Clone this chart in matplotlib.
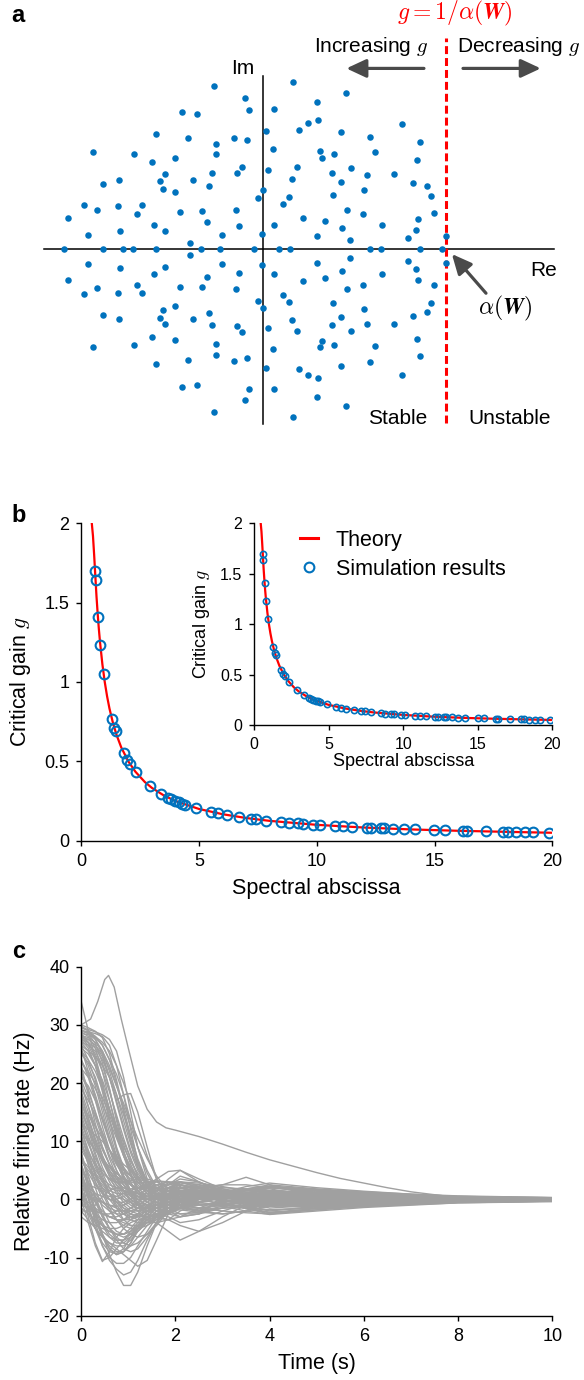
import numpy as np
import matplotlib
matplotlib.use('Agg')
import matplotlib.pyplot as plt
from matplotlib.lines import Line2D

plt.rcParams['font.family'] = ['Liberation Sans', 'DejaVu Sans']
plt.rcParams['mathtext.fontset'] = 'cm'
plt.rcParams['axes.unicode_minus'] = False

# ============================================================
# Data
# ============================================================
# (a) eigenvalues, upper half-plane (the lower half is the conjugate)
eig_re_upper = [-0.273, -0.098, -0.080, 0.059, 0.165, 0.296, 0.455, -0.447, -0.365, 0.302,
                0.245, 0.198, 0.012, 0.427, 0.584, 0.761, 0.861, -0.586, -0.412, -0.159,
                -0.092, -0.259, -0.259, -0.931, -0.710, -0.612, -0.484, 0.051, 0.312, 0.322,
                0.388, 0.612, 0.841, -0.118, -0.145, -0.280, 0.027, 0.182, 0.159, 0.480,
                0.378, 0.569, 0.718, -0.537, -0.565, -0.384, -0.549, -0.484, -0.296, -0.002,
                -0.027, 0.141, 0.110, 0.427, 0.553, 0.384, 0.822, 0.896, 0.918, -0.880,
                -0.790, -0.980, -0.914, -0.794, -0.667, -0.692, -0.455, -0.335, -0.151, -0.310,
                0.457, 0.547, 0.933, -1.071, -0.600, -0.541, -0.131, 0.061, 0.218, 0.337,
                0.433, 0.651, 0.849, 0.837, -0.959, -0.784, -0.227, -0.010, 0.292, 0.476,
                0.794, 1.000, -0.402]
eig_im_upper = [0.998, 0.924, 0.855, 0.857, 1.027, 0.902, 0.959, 0.843, 0.831, 0.790,
                0.771, 0.731, 0.727, 0.716, 0.690, 0.769, 0.655, 0.704, 0.680, 0.682,
                0.667, 0.645, 0.582, 0.596, 0.584, 0.535, 0.557, 0.612, 0.600, 0.559,
                0.584, 0.594, 0.547, 0.506, 0.469, 0.465, 0.484, 0.502, 0.431, 0.500,
                0.465, 0.457, 0.459, 0.459, 0.418, 0.427, 0.371, 0.349, 0.390, 0.361,
                0.316, 0.322, 0.278, 0.412, 0.365, 0.331, 0.408, 0.386, 0.329, 0.400,
                0.427, 0.271, 0.239, 0.267, 0.269, 0.216, 0.229, 0.233, 0.241, 0.167,
                0.243, 0.216, 0.220, 0.190, 0.149, 0.110, 0.143, 0.149, 0.194, 0.173,
                0.131, 0.149, 0.188, 0.120, 0.088, 0.112, 0.090, 0.094, 0.084, 0.055,
                0.071, 0.082, 0.037]
eig_re_real = [-1.090, -0.878, -0.767, -0.712, -0.586, -0.343, -0.237, -0.051,
               0.086, 0.145, 0.584, 0.643, 0.861, 0.980]
spectral_abscissa = 1.0

# (b) critical gain vs spectral abscissa
theory_x = [0.45, 0.5, 0.55, 0.6, 0.65, 0.7, 0.75, 0.8, 0.9, 1.0, 1.1, 1.2, 1.35, 1.5, 1.7,
            2.0, 2.3, 2.7, 3.0, 3.5, 4.0, 5.0, 6.0, 7.0, 8.0, 10.0, 12.0, 14.0, 16.0, 18.0, 20.0]
theory_g = [2.0, 1.92, 1.80, 1.667, 1.538, 1.429, 1.333, 1.25, 1.111, 1.0, 0.909, 0.833,
            0.741, 0.667, 0.588, 0.5, 0.435, 0.370, 0.333, 0.286, 0.25, 0.2, 0.167, 0.143,
            0.125, 0.1, 0.083, 0.071, 0.0625, 0.056, 0.05]
sim_x = [0.59, 0.61, 0.71, 0.81, 0.95, 1.30, 1.40, 1.46, 1.82, 1.96, 2.06, 2.34, 2.91, 3.38,
         3.67, 3.81, 3.98, 4.14, 4.28, 4.41, 4.87, 5.52, 5.82, 6.20, 6.69, 7.19, 7.43, 7.86,
         8.49, 8.81, 9.20, 9.41, 9.83, 10.12, 10.78, 11.13, 11.51, 12.13, 12.32, 12.71, 12.84,
         13.25, 13.71, 14.18, 14.99, 15.43, 16.22, 16.38, 17.17, 17.90, 18.12, 18.47, 18.86,
         19.19, 19.87]
sim_g = [1.70, 1.64, 1.41, 1.23, 1.05, 0.77, 0.71, 0.69, 0.55, 0.51, 0.485, 0.43, 0.345, 0.296,
         0.272, 0.262, 0.251, 0.241, 0.234, 0.227, 0.205, 0.181, 0.172, 0.161, 0.149, 0.139,
         0.135, 0.127, 0.118, 0.114, 0.109, 0.106, 0.102, 0.099, 0.093, 0.090, 0.087, 0.082,
         0.081, 0.079, 0.078, 0.075, 0.073, 0.071, 0.067, 0.065, 0.062, 0.061, 0.058, 0.056,
         0.055, 0.054, 0.053, 0.052, 0.050]

# (c) relative firing rates
outlier_t = [0, 0.2, 0.35, 0.5, 0.58, 0.7, 0.85, 1.0, 1.2, 1.4, 1.6, 1.8, 2.0, 2.5, 3.0, 3.5,
             4.0, 4.5, 5.0, 5.5, 6.0, 6.5, 7.0, 7.5, 8.0, 9.0, 10.0]
outlier_rate = [30.0, 31.0, 34.0, 37.8, 38.5, 36.5, 31.0, 26.0, 19.5, 15.5, 13.3, 12.3, 11.9,
                10.8, 9.5, 8.1, 6.8, 5.7, 4.6, 3.6, 2.8, 2.0, 1.3, 0.8, 0.3, 0.0, -0.1]
time_s = [0, 0.15, 0.3, 0.45, 0.6, 0.75, 0.9, 1.05, 1.2, 1.4, 1.6, 1.85, 2.1, 2.5, 3.0, 3.5,
          4.0, 5.0, 6.0, 7.0, 8.0, 10.0]
rate_traces = [
    [29.5, 29.2, 28.8, 28.3, 27.5, 25.5, 21.0, 15.0, 9.0, 3.5, 0.5, -0.5, -0.2, 0.5, 0.3, 0.0, 0.8, 1.2, 0.9, 0.5, 0.3, 0.1],
    [29.0, 28.8, 28.5, 28.0, 26.5, 23.0, 18.0, 12.0, 6.5, 2.0, 0.0, 0.8, 1.5, 1.0, 0.4, 0.2, -0.6, -1.0, -0.7, -0.4, -0.2, 0.0],
    [28.5, 28.3, 27.8, 26.5, 24.0, 20.0, 15.0, 10.0, 5.5, 2.0, 0.5, 1.5, 2.5, 1.5, 0.5, -0.3, -0.4, 0.5, 0.8, 0.6, 0.2, 0.1],
    [29.8, 29.0, 27.5, 25.0, 21.0, 17.0, 18.0, 18.2, 15.0, 9.0, 3.5, 0.5, -0.5, 0.5, 1.0, 0.5, 0.0, -0.8, -0.9, -0.5, -0.3, -0.1],
    [28.0, 27.5, 26.5, 24.5, 21.0, 16.5, 12.0, 8.0, 5.0, 2.5, 1.5, 2.5, 4.0, 3.0, 1.5, 0.5, -0.3, -0.5, 0.3, 0.4, 0.3, 0.2],
    [27.0, 26.5, 25.5, 23.0, 19.0, 14.0, 9.5, 6.0, 3.5, 1.5, 1.5, 3.5, 5.0, 3.5, 1.8, 0.8, 1.2, 1.6, 1.2, 0.7, 0.4, 0.2],
    [29.2, 28.5, 26.8, 23.5, 19.0, 13.5, 8.5, 4.5, 1.5, -0.5, -1.0, 0.0, 1.0, 1.5, 1.0, 0.5, 0.3, 0.0, -0.4, -0.3, -0.1, 0.0],
    [26.0, 25.0, 23.0, 20.5, 17.0, 12.5, 8.0, 4.5, 2.0, 0.5, 0.5, 1.5, 2.0, 1.2, 0.5, 0.2, 1.5, 1.0, 0.5, 0.2, 0.3, 0.0],
    [34.0, 29.0, 24.0, 19.0, 15.0, 12.5, 10.0, 7.0, 4.0, 1.5, 0.0, -0.5, 0.0, 0.5, 0.3, 0.0, -1.0, -1.3, -0.8, -0.5, -0.2, -0.2],
    [28.8, 28.0, 26.0, 22.0, 17.0, 12.0, 7.5, 4.0, 1.5, 0.0, -0.8, -1.5, -1.5, -0.5, 0.3, 0.5, 0.3, 0.7, 0.5, 0.2, 0.0, 0.1],
    [27.5, 26.0, 23.0, 18.5, 13.5, 9.0, 5.5, 3.0, 1.0, 0.0, 0.3, 1.0, 1.5, 1.0, 0.5, 0.3, 0.1, -0.3, -0.6, -0.6, -0.4, -0.1],
    [25.0, 23.5, 21.0, 17.0, 12.5, 8.5, 5.0, 2.5, 1.0, 0.5, 0.5, 2.0, 3.0, 2.0, 0.8, 0.0, -0.5, -0.3, 0.1, 0.3, 0.2, 0.0],
    [28.0, 27.0, 24.5, 20.0, 14.0, 8.5, 4.0, 1.0, -1.0, -2.0, -1.5, 0.0, 1.5, 1.5, 0.5, -0.2, -0.5, -0.2, 0.2, 0.0, 0.0, 0.0],
    [29.5, 29.0, 28.0, 26.5, 24.0, 21.5, 18.0, 13.5, 9.0, 4.5, 1.5, -0.5, -1.0, -0.5, 0.5, 1.0, 0.8, 0.2, 0.0, 0.1, 0.0, 0.0],
    [28.5, 27.0, 25.0, 22.0, 18.5, 14.5, 10.5, 7.0, 4.0, 1.5, 0.0, -1.0, -1.0, 0.0, 0.8, 0.8, 0.3, -0.2, 0.0, 0.0, 0.0, 0.0],
    [27.0, 25.5, 23.0, 19.5, 15.5, 11.5, 8.0, 5.5, 3.5, 2.0, 1.0, 0.5, 0.5, 0.5, 0.2, 0.0, 0.6, 0.9, 0.7, 0.4, 0.1, 0.0],
    [29.0, 28.5, 27.5, 25.5, 22.0, 18.0, 13.5, 9.5, 6.0, 3.0, 1.0, 0.0, -0.5, -1.0, -0.8, -0.3, 0.0, 0.2, 0.0, 0.0, 0.0, 0.0],
    [26.5, 24.0, 20.5, 16.0, 11.5, 7.5, 4.0, 1.5, -0.5, -2.0, -2.5, -2.0, -1.0, 0.5, 1.0, 0.5, 0.0, -0.2, 0.0, 0.0, 0.0, 0.0],
    [22.0, 19.0, 15.0, 11.0, 7.5, 5.0, 3.0, 1.5, 0.5, 0.0, 0.5, 1.5, 2.0, 1.5, 0.5, 0.0, -0.3, 0.0, 0.0, 0.0, 0.0, 0.0],
    [20.0, 16.0, 11.5, 7.5, 4.0, 1.5, 0.0, -1.0, -1.5, -1.5, -1.0, 0.0, 1.0, 1.5, 1.2, 0.5, 0.0, -0.3, 0.0, 0.1, 0.0, 0.0],
    [24.0, 21.0, 17.0, 12.5, 8.5, 5.0, 2.5, 0.5, -0.5, -1.0, -0.5, 0.5, 1.0, 0.8, 0.3, 0.0, 0.0, 0.1, 0.0, 0.0, 0.0, 0.0],
    [17.0, 13.0, 9.0, 5.5, 3.0, 1.0, -0.5, -1.5, -2.0, -2.0, -1.5, -0.5, 0.5, 1.5, 1.5, 0.8, 0.2, -0.2, 0.0, 0.0, 0.0, 0.0],
    [15.0, 12.0, 9.0, 6.5, 4.5, 3.0, 2.0, 1.5, 1.0, 1.0, 1.5, 2.5, 3.0, 2.5, 1.5, 0.8, 0.5, 0.3, 0.2, 0.1, 0.0, 0.0],
    [12.0, 8.0, 4.5, 1.5, -1.0, -2.5, -3.5, -3.5, -3.0, -2.0, -1.0, 0.0, 0.5, 1.0, 0.8, 0.5, 0.2, 0.0, 0.0, 0.0, 0.0, 0.0],
    [19.0, 17.0, 14.5, 11.5, 8.5, 6.0, 4.0, 2.5, 2.0, 2.0, 2.5, 3.0, 3.0, 2.0, 1.0, 0.5, 0.3, 0.2, 0.1, 0.0, 0.0, 0.0],
    [10.0, 6.0, 2.0, -1.5, -4.0, -5.5, -6.0, -5.5, -4.5, -3.0, -1.5, 0.0, 1.0, 1.5, 1.0, 0.5, 0.2, 0.0, 0.0, 0.0, 0.0, 0.0],
    [26.0, 22.0, 17.5, 13.5, 10.0, 7.5, 6.0, 5.0, 4.0, 3.0, 2.5, 2.5, 2.5, 1.8, 1.0, 0.5, 0.3, 0.3, 0.2, 0.1, 0.0, 0.0],
    [21.0, 19.5, 17.0, 14.0, 10.5, 7.0, 4.0, 1.5, 0.0, -1.0, -1.0, -0.5, 0.0, 0.5, 0.5, 0.3, 0.0, 0.0, 0.0, 0.0, 0.0, 0.0],
    [23.0, 18.0, 13.0, 9.0, 6.0, 4.0, 3.0, 2.5, 2.0, 1.5, 1.0, 0.5, 0.5, 0.5, 0.5, 0.3, 0.2, 0.1, 0.0, 0.0, 0.0, 0.0],
    [16.0, 12.0, 8.0, 4.5, 2.0, 0.0, -1.5, -2.5, -3.0, -3.0, -2.5, -1.5, -0.5, 0.5, 1.0, 0.8, 0.5, 0.0, -0.2, 0.0, 0.0, 0.0],
    [13.0, 10.5, 8.5, 7.0, 5.5, 4.5, 3.5, 2.5, 1.5, 0.5, 0.0, 0.0, 0.5, 1.0, 1.5, 1.5, 1.2, 0.8, 0.5, 0.3, 0.1, 0.0],
    [5.0, 0.5, -4.0, -8.0, -10.5, -12.0, -13.0, -12.5, -10.5, -7.0, -4.0, -1.5, 0.0, 0.5, 0.3, 0.0, 0.0, 0.0, 0.0, 0.0, 0.0, 0.0],
    [8.0, 3.0, -2.0, -6.0, -9.5, -12.5, -14.8, -14.8, -12.5, -8.0, -4.0, -1.0, 0.5, 1.0, 0.5, 0.0, 0.0, 0.0, 0.0, 0.0, 0.0, 0.0],
    [2.0, -3.0, -7.5, -10.5, -10.0, -8.5, -7.0, -5.5, -4.0, -2.5, -1.0, 0.0, 0.5, 0.5, 0.2, 0.0, 0.0, 0.0, 0.0, 0.0, 0.0, 0.0],
    [0.0, -4.0, -8.0, -10.7, -9.0, -6.5, -5.0, -4.0, -3.5, -3.0, -2.5, -2.0, -1.5, -1.0, -0.5, 0.0, 0.0, 0.0, 0.0, 0.0, 0.0, 0.0],
    [6.0, 2.0, -2.5, -6.0, -8.5, -9.5, -9.0, -7.5, -5.0, -2.0, 0.5, 2.0, 2.5, 1.5, 0.5, 0.0, -0.2, 0.0, 0.0, 0.0, 0.0, 0.0],
    [3.0, -1.0, -5.0, -7.5, -9.0, -9.3, -8.5, -6.5, -4.5, -3.0, -2.5, -3.0, -4.0, -3.5, -2.0, -0.8, 0.0, 0.2, 0.0, 0.0, 0.0, 0.0],
    [1.0, -2.5, -5.0, -6.5, -7.5, -8.0, -8.0, -7.0, -5.5, -4.0, -4.0, -5.5, -7.0, -5.5, -3.0, -1.0, 0.0, 0.3, 0.0, 0.0, 0.0, 0.0],
    [-2.0, -3.5, -5.0, -6.5, -7.5, -8.5, -9.5, -10.5, -11.5, -10.5, -7.0, -2.5, 0.5, 1.5, 0.8, 0.0, -0.3, 0.0, 0.0, 0.0, 0.0, 0.0],
    [4.0, 1.0, -2.0, -4.5, -6.5, -7.5, -7.5, -6.5, -5.0, -3.5, -3.0, -3.5, -4.5, -5.5, -4.0, -2.0, -0.5, 0.3, 0.2, 0.0, 0.0, 0.0],
    [-3.0, -4.0, -4.5, -5.0, -5.5, -6.0, -6.0, -5.5, -4.5, -3.0, -1.5, 0.0, 1.0, 0.8, 0.3, 0.0, 0.0, 0.0, 0.0, 0.0, 0.0, 0.0],
    [8.0, 4.0, 0.0, -3.0, -5.0, -6.0, -6.5, -6.0, -5.0, -3.5, -2.0, -0.5, 0.5, 0.8, 0.5, 0.2, 0.0, 0.0, 0.0, 0.0, 0.0, 0.0],
    [10.0, 6.0, 3.0, 1.0, 0.0, -0.5, -0.5, 0.0, 0.5, 1.0, 1.5, 2.0, 1.5, 0.5, 0.0, -0.5, -0.5, -0.3, 0.0, 0.0, 0.0, 0.0],
    [5.0, 3.0, 1.0, -0.5, -1.5, -2.0, -2.0, -1.5, -1.0, 0.0, 1.0, 2.0, 2.5, 2.0, 1.5, 1.0, 0.5, 0.0, -0.3, 0.0, 0.0, 0.0],
    [2.0, 1.0, -0.5, -2.0, -3.0, -3.5, -3.5, -3.0, -2.5, -2.0, -1.5, -1.0, -1.5, -2.0, -2.5, -2.0, -1.0, 0.0, 0.5, 0.3, 0.0, 0.0],
    [14.0, 10.0, 6.0, 3.0, 1.5, 1.0, 1.0, 1.5, 2.0, 2.5, 3.0, 3.0, 2.5, 2.0, 2.5, 3.8, 2.5, 0.5, -0.3, 0.0, 0.0, 0.0],
    [0.0, -1.0, -2.0, -2.5, -2.5, -2.0, -1.0, 0.0, 0.5, 0.5, 0.0, -0.5, -1.0, -1.5, -2.0, -2.3, -2.5, -1.5, -0.5, 0.0, 0.2, 0.0],
    [7.0, 4.5, 2.5, 1.0, 0.5, 0.5, 1.0, 1.5, 2.0, 2.5, 3.5, 4.8, 5.0, 3.0, 1.0, 0.0, -0.3, -0.2, 0.0, 0.0, 0.0, 0.0],
    [3.0, 2.0, 1.0, 0.5, 0.0, 0.0, 0.5, 1.0, 1.5, 2.0, 2.0, 1.5, 1.5, 2.0, 2.5, 2.5, 2.0, 1.5, 1.0, 0.5, 0.2, 0.0],
    [12.0, 8.5, 5.5, 3.0, 1.0, -0.5, -1.5, -2.0, -2.0, -1.5, -1.0, -1.0, -1.5, -1.8, -1.5, -1.0, -0.8, -0.5, -0.3, -0.2, 0.0, 0.0],
    [-1.0, -1.5, -2.0, -2.5, -3.0, -3.5, -4.0, -4.5, -4.5, -4.0, -3.0, -2.0, -1.5, -1.0, -0.5, 0.0, 0.5, 0.8, 0.5, 0.2, 0.0, 0.0],
    [18.0, 14.0, 10.0, 6.5, 4.0, 2.5, 1.5, 1.0, 1.0, 1.5, 2.0, 2.8, 3.0, 2.8, 2.2, 1.5, 1.2, 0.8, 0.5, 0.3, 0.2, 0.0],
    [6.0, 3.0, 0.5, -1.0, -2.0, -2.5, -2.5, -2.0, -1.5, -1.5, -2.0, -2.5, -3.0, -2.5, -1.5, -1.0, -1.0, -1.2, -0.8, -0.3, 0.0, 0.0],
    [9.0, 7.0, 5.0, 3.5, 2.5, 2.0, 1.5, 1.0, 0.5, 0.0, -0.5, -1.0, -1.0, -0.5, 0.5, 1.0, 1.5, 1.0, 0.5, 0.8, 0.3, 0.0],
    [-2.0, -2.0, -1.0, 0.5, 1.5, 2.0, 2.0, 1.5, 1.0, 0.5, 0.5, 1.0, 1.5, 1.5, 1.0, 0.8, 0.5, 0.2, -0.5, -0.8, -0.3, 0.0],
    [11.0, 7.0, 3.0, 0.0, -2.0, -3.5, -4.5, -5.0, -5.0, -4.5, -3.5, -2.0, -0.5, 0.5, 0.5, 0.5, 0.8, 0.5, 0.3, 0.0, 0.0, 0.0],
    [30.0, 29.5, 28.9, 27.8, 25.0, 20.5, 15.5, 11.0, 7.0, 3.0, 0.8, -0.5, -0.8, 0.2, 1.2, 1.8, 1.5, 1.2, 0.9, 0.6, 0.4, 0.2],
    [28.2, 27.8, 27.0, 25.5, 23.0, 19.5, 16.0, 12.5, 9.0, 5.0, 2.0, 0.0, -1.2, -2.0, -1.5, -1.4, -1.8, -1.5, -1.1, -0.8, -0.5, -0.3],
    [27.8, 26.5, 24.0, 20.0, 15.5, 11.0, 7.5, 5.0, 3.0, 1.5, 0.8, 1.0, 1.8, 2.5, 2.0, 1.8, 2.2, 1.6, 1.0, 0.5, 0.2, 0.1],
    [25.5, 24.0, 22.0, 19.0, 15.5, 12.0, 9.0, 6.5, 4.5, 2.5, 1.0, -0.5, -1.5, -2.0, -1.2, 0.0, 0.8, 1.3, 0.8, 0.4, 0.2, 0.1],
    [24.0, 21.5, 18.0, 14.0, 10.0, 6.5, 3.5, 1.0, -1.0, -2.5, -3.0, -2.5, -1.5, 0.0, 0.0, -1.2, -2.0, -1.2, -0.6, -0.2, 0.1, 0.1],
    [22.5, 21.0, 19.0, 16.5, 13.5, 10.5, 7.5, 5.0, 3.0, 1.0, -0.5, -2.0, -3.0, -2.5, 0.5, 1.8, 2.5, 1.8, 1.3, 0.9, 0.6, 0.3],
    [20.5, 17.5, 14.0, 10.5, 7.0, 4.0, 1.5, -0.5, -2.0, -3.5, -4.0, -3.5, -2.0, -0.5, 0.5, -0.2, -1.0, -1.5, -1.2, -0.8, -0.5, -0.2],
    [18.5, 15.0, 11.5, 8.5, 6.0, 4.5, 3.5, 3.0, 2.8, 3.0, 3.2, 3.0, 2.2, 1.0, 0.0, -0.6, -0.8, -0.6, -0.3, 0.0, 0.1, 0.0],
    [16.5, 13.5, 10.0, 7.0, 4.5, 2.5, 1.0, 0.0, -0.8, -1.2, -1.0, 0.0, 1.2, 2.0, 1.5, 1.5, 1.8, 0.5, -0.5, -0.7, -0.4, -0.2],
    [14.5, 11.0, 7.5, 4.0, 1.0, -1.5, -3.5, -4.5, -4.5, -3.5, -2.0, -0.5, 0.5, 1.0, -0.5, -1.6, -2.3, -1.8, -1.2, -0.7, -0.4, -0.2],
    [12.5, 9.5, 7.0, 5.0, 3.5, 2.0, 0.5, -0.5, -1.5, -2.5, -3.2, -3.5, -3.0, -1.5, 0.0, 0.8, 1.2, 1.0, 0.5, 0.2, 0.0, 0.0],
    [11.0, 7.5, 4.0, 1.0, -1.5, -3.5, -5.0, -6.0, -6.5, -6.0, -4.5, -2.0, -0.5, 0.8, 1.2, 1.0, 2.0, 1.5, 1.2, 0.8, 0.5, 0.3],
    [9.5, 7.0, 4.5, 2.0, 0.0, -1.5, -2.5, -3.0, -3.0, -2.5, -1.5, 0.0, 1.0, 1.5, 0.5, -0.6, -1.5, -1.0, -0.8, -0.6, -0.4, -0.2],
    [7.5, 4.0, 0.5, -2.5, -5.0, -7.0, -8.5, -9.0, -8.5, -6.5, -4.0, -1.5, 0.0, 0.8, 0.5, 0.0, -0.3, -0.5, -0.3, 0.0, 0.1, 0.0],
    [6.5, 5.0, 3.5, 2.0, 1.0, 0.0, -1.0, -2.0, -2.5, -3.0, -3.0, -2.5, -1.5, 0.0, 1.0, 1.5, 1.5, 0.8, 0.3, 0.0, -0.1, 0.0],
    [4.5, 1.5, -1.5, -4.0, -6.0, -7.0, -7.0, -6.0, -4.5, -2.5, -1.0, 0.5, 1.5, 1.5, -0.5, -1.6, -2.5, -1.8, -1.2, -0.8, -0.5, -0.3],
    [3.5, 0.0, -3.5, -6.5, -8.5, -9.5, -9.0, -7.5, -5.5, -3.5, -2.0, -1.5, -1.5, -1.5, -1.0, -0.5, 0.0, 0.4, 0.5, 0.3, 0.1, 0.0],
    [1.5, -1.0, -3.0, -4.5, -5.5, -6.0, -6.0, -5.0, -3.5, -1.5, 0.5, 2.0, 2.8, 2.5, 1.5, 0.5, 0.8, 1.5, 1.0, 0.6, 0.4, 0.2],
    [-1.5, -2.5, -3.5, -4.5, -5.0, -5.0, -4.5, -3.5, -2.5, -1.0, 0.0, 0.8, 1.0, 0.5, -0.3, -0.8, -1.0, -0.8, -0.3, 0.1, 0.2, 0.1],
    [0.5, -0.5, -1.5, -2.5, -3.0, -3.0, -2.5, -1.5, -0.5, 0.5, 1.5, 2.0, 2.0, 1.2, 1.0, 1.6, 2.0, 1.2, 0.7, 0.4, 0.3, 0.2],
    [2.5, 1.5, 0.5, -0.5, -1.0, -1.2, -1.0, -0.5, 0.0, 0.5, 0.8, 1.0, 0.8, 0.5, 0.2, 0.3, 0.6, 1.0, 1.0, 0.6, 0.3, 0.1],
    [8.5, 6.5, 4.5, 3.0, 2.0, 1.5, 1.5, 1.8, 2.0, 2.2, 2.0, 1.5, 0.8, 0.0, -0.8, -1.2, -1.2, -0.8, -0.4, -0.1, 0.0, 0.0],
    [10.5, 8.0, 6.0, 4.5, 3.5, 3.0, 3.0, 3.2, 3.5, 3.5, 3.0, 2.0, 1.0, 0.0, -0.8, -1.5, -1.8, -1.5, -0.8, -0.3, 0.0, 0.0],
    [15.5, 12.5, 9.5, 7.0, 5.0, 3.5, 2.5, 1.5, 0.5, -0.5, -1.5, -2.2, -2.5, -2.2, -1.5, 0.2, 1.0, 0.6, 0.8, 0.7, 0.4, 0.2],
    [19.5, 16.0, 12.5, 9.0, 6.0, 3.5, 1.5, 0.0, -1.0, -1.5, -1.5, -1.0, -0.5, 0.0, 0.3, 0.5, -0.5, -1.2, -1.0, -0.6, -0.4, -0.2],
    [23.5, 22.0, 20.0, 17.5, 14.5, 11.0, 8.0, 5.5, 3.5, 2.0, 1.5, 1.5, 2.0, 2.2, 1.8, 1.2, 0.8, 0.3, 0.0, -0.2, -0.2, -0.1],
    [26.5, 25.5, 24.5, 23.0, 21.0, 18.0, 14.5, 10.5, 6.5, 3.0, 0.5, -1.5, -2.5, -2.5, 0.0, 1.5, 2.3, 1.7, 1.0, 0.5, 0.2, 0.1],
    [29.0, 28.6, 28.0, 27.0, 25.5, 23.0, 20.0, 16.5, 12.5, 7.5, 3.5, 0.5, -1.0, -1.5, -1.0, -1.5, -2.2, -1.6, -1.2, -0.9, -0.6, -0.4],
    [28.0, 27.5, 26.5, 25.0, 22.5, 19.5, 16.5, 13.5, 10.5, 7.0, 4.0, 1.5, 0.0, -0.8, -0.8, -0.5, 0.0, 0.4, 0.3, 0.1, 0.0, 0.0],
    [27.5, 27.0, 26.0, 24.0, 21.0, 17.0, 12.5, 8.5, 5.5, 3.0, 2.0, 2.5, 3.5, 3.0, 1.5, 0.2, -0.6, -0.8, -0.5, -0.2, 0.0, 0.0],
    [25.5, 23.0, 19.5, 15.0, 10.5, 6.5, 3.5, 1.5, 0.5, 0.0, 0.0, 0.3, 0.5, 0.3, -0.2, -0.6, -0.8, -0.5, 0.2, 0.5, 0.3, 0.1],
    [21.5, 18.5, 15.0, 11.5, 8.5, 6.0, 4.5, 3.5, 3.0, 2.5, 2.0, 1.0, 0.0, -1.0, -0.5, 0.6, 1.5, 1.0, 0.6, 0.3, 0.1, 0.0],
    [17.5, 14.0, 10.5, 7.5, 5.0, 3.0, 1.5, 0.5, 0.0, 0.0, 0.5, 1.0, 1.2, 1.0, 0.5, 0.0, -0.4, -0.6, -0.6, -0.4, -0.2, -0.1],
    [13.5, 10.0, 6.5, 3.5, 1.0, -1.0, -2.5, -3.5, -4.0, -4.0, -3.5, -2.5, -1.5, -0.5, 0.2, 0.5, 0.5, 0.3, 0.0, 0.0, 0.0, 0.0],
    [5.5, 2.5, -0.5, -3.0, -5.0, -6.5, -7.5, -8.0, -7.5, -6.0, -4.0, -2.0, -0.5, 0.5, 0.8, -0.4, -1.2, -0.9, -0.7, -0.5, -0.3, -0.2],
    [2.0, -1.5, -5.0, -8.0, -10.0, -11.0, -11.0, -10.0, -8.0, -5.5, -3.0, -1.0, 0.5, 1.5, 1.2, 0.5, 1.0, 0.7, 0.4, 0.2, 0.1, 0.0],
    [4.0, 0.5, -3.0, -6.0, -8.0, -9.0, -9.0, -8.0, -6.5, -4.5, -3.0, -2.0, -1.8, -2.2, -2.5, -2.0, -1.2, -0.2, 0.3, 0.3, 0.1, 0.0],
    [0.5, -2.0, -4.0, -5.5, -6.5, -7.0, -7.0, -6.5, -5.5, -4.0, -2.5, -1.0, 0.2, 1.0, 1.3, 1.0, 0.5, 0.0, -0.2, -0.1, 0.0, 0.0],
    [7.0, 5.5, 4.0, 2.5, 1.0, -0.5, -2.0, -3.0, -3.5, -3.5, -3.0, -2.0, -1.0, 0.0, 1.2, 2.2, 2.8, 2.0, 1.4, 0.9, 0.5, 0.3],
    [11.5, 10.0, 8.5, 7.0, 5.5, 4.0, 2.5, 1.0, 0.0, -1.0, -1.5, -1.5, -1.0, 0.0, 1.0, 1.5, 1.5, 1.0, 0.4, 0.0, -0.1, 0.0],
    [13.0, 12.0, 11.0, 10.0, 8.5, 7.0, 5.5, 4.0, 2.5, 1.0, 0.0, -0.8, -1.0, -0.8, -1.2, -2.0, -2.6, -2.0, -1.4, -1.0, -0.6, -0.3],
    [3.0, 2.5, 2.0, 1.5, 1.0, 0.5, 0.0, -0.5, -1.0, -1.5, -2.0, -2.0, -1.5, -0.5, 0.5, 1.0, 1.0, 0.6, 0.2, -0.1, -0.2, -0.1],
    [-0.5, -1.5, -2.5, -3.5, -4.0, -4.0, -3.5, -2.5, -1.5, -0.5, 0.5, 1.0, 1.5, 1.8, 1.5, 1.0, 0.5, -0.2, -0.6, -0.5, -0.2, 0.0],
    [1.0, 0.5, 0.0, -0.5, -1.0, -1.5, -2.0, -2.5, -2.8, -3.0, -2.8, -2.2, -1.5, -0.5, 0.3, 0.8, 1.0, 0.8, 0.4, 0.1, 0.0, 0.0],
    [16.0, 14.5, 12.5, 10.5, 8.5, 6.5, 5.0, 4.0, 3.5, 3.0, 2.5, 1.5, 0.5, -0.5, -1.0, -1.0, -0.8, -0.4, 0.0, 0.2, 0.2, 0.1],
]

# ============================================================
# Style
# ============================================================
BLUE = '#0072BD'
RED = '#FF0000'
ARROW = '#4a4a4a'
GRAY = '#a0a0a0'
W, H = 584, 1380

fig = plt.figure(figsize=(W / 100, H / 100), dpi=100)


def px_rect(left, top, right, bottom):
    return [left / W, 1 - bottom / H, (right - left) / W, (bottom - top) / H]


# ============================================================
# (a) eigenvalue spectrum
# ============================================================
ax_a = fig.add_axes(px_rect(0, 0, W, 440))
ax_a.set_xlim(-1.443, 1.757)
ax_a.set_ylim(-1.168, 1.527)
ax_a.axis('off')

re_all = np.concatenate([eig_re_upper, eig_re_upper, eig_re_real])
im_all = np.concatenate([eig_im_upper, -np.array(eig_im_upper), np.zeros(len(eig_re_real))])

ax_a.plot([-1.202, 1.592], [0, 0], color='black', lw=1.1, zorder=1)
ax_a.plot([0, 0], [-1.069, 1.061], color='black', lw=1.1, zorder=1)
ax_a.scatter(re_all, im_all, s=22, color=BLUE, linewidths=0, zorder=3)
ax_a.plot([spectral_abscissa, spectral_abscissa], [-1.065, 1.292], color=RED, lw=2.2,
          linestyle=(0, (2.6, 1.3)), zorder=2)

ax_a.text(-0.051, 1.108, 'Im', ha='right', va='center', fontsize=15)
ax_a.text(1.537, -0.127, 'Re', ha='center', va='center', fontsize=15)
ax_a.text(0.588, 1.241, r'Increasing $g$', ha='center', va='center', fontsize=15)
ax_a.text(1.063, 1.241, r'Decreasing $g$', ha='left', va='center', fontsize=15)
ax_a.text(1.047, 1.445, r'$g=1/\alpha(\mathbfit{W})$', ha='center', va='center',
          fontsize=17, color=RED)
ax_a.text(1.322, -0.361, r'$\alpha(\mathbfit{W})$', ha='center', va='center', fontsize=17)
ax_a.text(0.737, -1.035, 'Stable', ha='center', va='center', fontsize=15)
ax_a.text(1.349, -1.035, 'Unstable', ha='center', va='center', fontsize=15)

arrow_kw = dict(arrowstyle='-|>,head_length=0.6,head_width=0.28', lw=2.3, color=ARROW,
                shrinkA=0, shrinkB=0, mutation_scale=20)
ax_a.annotate('', xy=(0.455, 1.108), xytext=(0.880, 1.108), arrowprops=arrow_kw)
ax_a.annotate('', xy=(1.520, 1.108), xytext=(1.094, 1.108), arrowprops=arrow_kw)
ax_a.annotate('', xy=(1.033, -0.029), xytext=(1.220, -0.269), arrowprops=arrow_kw)


def style_axes(ax, labelsize):
    ax.spines['top'].set_visible(False)
    ax.spines['right'].set_visible(False)
    ax.spines['left'].set_linewidth(1.0)
    ax.spines['bottom'].set_linewidth(1.0)
    ax.tick_params(direction='out', length=3.5, width=1.0, labelsize=labelsize, pad=5)


# ============================================================
# (b) critical gain
# ============================================================
ax_b = fig.add_axes(px_rect(81.2, 523.3, 552.3, 840.7))
ax_b.plot(theory_x, theory_g, color=RED, lw=1.6, zorder=2)
ax_b.plot(sim_x, sim_g, 'o', mfc='none', mec=BLUE, mew=1.5, ms=7, zorder=3)
ax_b.set_xlim(0, 20)
ax_b.set_ylim(0, 2)
ax_b.set_xticks([0, 5, 10, 15, 20])
ax_b.set_yticks([0, 0.5, 1, 1.5, 2])
ax_b.set_yticklabels(['0', '0.5', '1', '1.5', '2'])
style_axes(ax_b, 13)
ax_b.set_xlabel('Spectral abscissa', fontsize=15.5, labelpad=6)
ax_b.set_ylabel(r'Critical gain $g$', fontsize=15.5, labelpad=8)

ax_in = fig.add_axes(px_rect(254.0, 523.3, 552.3, 725.0))
ax_in.plot(theory_x, theory_g, color=RED, lw=1.6, zorder=2)
ax_in.plot(sim_x, sim_g, 'o', mfc='none', mec=BLUE, mew=1.2, ms=4.5, zorder=3)
ax_in.set_xlim(0, 20)
ax_in.set_ylim(0, 2)
ax_in.set_xticks([0, 5, 10, 15, 20])
ax_in.set_yticks([0, 0.5, 1, 1.5, 2])
ax_in.set_yticklabels(['0', '0.5', '1', '1.5', '2'])
style_axes(ax_in, 11.5)
ax_in.set_xlabel('Spectral abscissa', fontsize=13, labelpad=1)
ax_in.set_ylabel(r'Critical gain $g$', fontsize=13, labelpad=6)
ax_in.patch.set_alpha(0)

handles = [Line2D([], [], color=RED, lw=2.2),
           Line2D([], [], marker='o', ls='none', mfc='none', mec=BLUE, mew=1.5, ms=7)]
ax_in.legend(handles, ['Theory', 'Simulation results'], loc='upper left',
             bbox_to_anchor=(300 / W, 1 - 530 / H), bbox_transform=fig.transFigure,
             frameon=False, fontsize=15.5, handlelength=0.85, handletextpad=0.8,
             labelspacing=0.35, borderpad=0, borderaxespad=0)

# ============================================================
# (c) firing-rate traces
# ============================================================
ax_c = fig.add_axes(px_rect(81.2, 966.7, 552.3, 1315.7))
for tr in rate_traces:
    ax_c.plot(time_s, tr, color=GRAY, lw=1.0)
ax_c.plot(outlier_t, outlier_rate, color=GRAY, lw=1.0)
ax_c.set_xlim(0, 10)
ax_c.set_ylim(-20, 40)
ax_c.set_xticks([0, 2, 4, 6, 8, 10])
ax_c.set_yticks([-20, -10, 0, 10, 20, 30, 40])
style_axes(ax_c, 13)
ax_c.set_xlabel('Time (s)', fontsize=15.5, labelpad=6)
ax_c.set_ylabel('Relative firing rate (Hz)', fontsize=15.5, labelpad=6)

# panel letters
for letter, (x, y) in zip('abc', [(17.5, 15), (18.6, 515), (18.6, 952)]):
    fig.text(x / W, 1 - y / H, letter, fontsize=17, fontweight='bold', ha='center', va='center')

fig.savefig('out.png', dpi=100, facecolor='white')
